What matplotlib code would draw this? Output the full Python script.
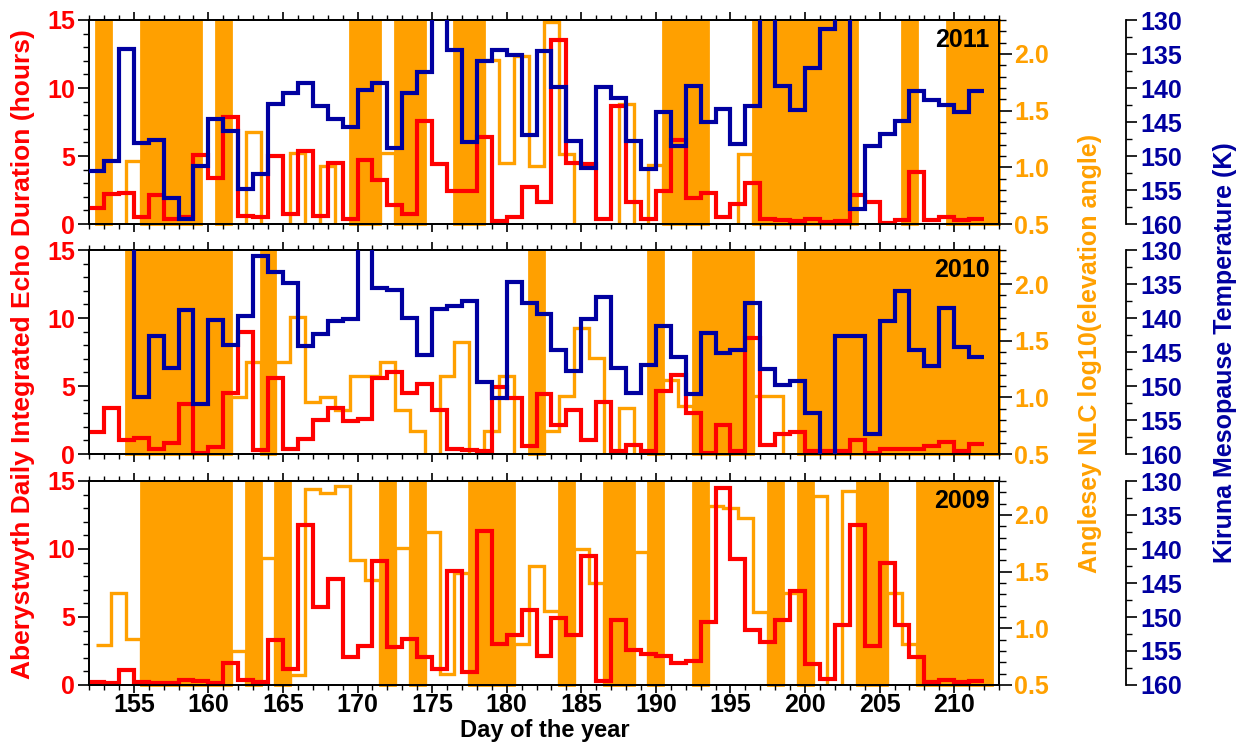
import numpy as np
import matplotlib
matplotlib.use("Agg")
import matplotlib.pyplot as plt
from matplotlib.ticker import MultipleLocator

plt.rcParams["font.family"] = ["Liberation Sans", "DejaVu Sans"]
plt.rcParams["font.weight"] = "bold"
plt.rcParams["axes.linewidth"] = 1.3

RED = "#ff0000"
ORANGE = "#ffa000"
NAVY = "#0000a0"
nan = np.nan

# echo duration (hours) and temperature (K): one value per day, 152..211
# NLC log10(elevation angle): one value per day centred on the day, 152..212
# (0 = no NLC seen, drawn at the floor); cloudy days are shaded
years = ["2011", "2010", "2009"]

echo_2011 = [1.2, 2.2, 2.3, 0.5, 2.1, 0.4, 0.5, 5.1, 3.4, 7.9, 0.6, 0.55, 5.0, 0.7, 5.4, 0.6,
             4.5, 0.4, 4.7, 3.2, 1.4, 0.7, 7.6, 4.4, 2.4, 2.4, 6.4, 0.2, 0.5, 2.7, 1.6,
             13.5, 4.5, 4.4, 0.35, 8.7, 1.6, 0.35, 2.4, 6.2, 1.9, 2.3, 0.55, 1.5, 3.0, 0.35,
             0.3, 0.25, 0.35, 0.15, 0.2, 2.1, 1.6, 0.1, 0.3, 3.8, 0.3, 0.55, 0.3, 0.4]
temp_2011 = [152.2, 150.7, 134.3, 148.1, 147.6, 156.2, 159.3, 151.4, 144.6, 146.3, 154.9,
             152.6, 142.3, 140.8, 139.2, 142.7, 144.6, 145.7, 140.3, 139.2, 148.8, 140.8,
             137.7, 127.0, 134.4, 148.0, 136.0, 134.4, 135.2, 146.9, 134.5,
             139.9, 147.8, 151.7, 139.9, 141.4, 147.8, 151.9, 143.6, 148.5, 139.7, 145.0,
             143.1, 148.2, 142.7, 127.0, 139.7, 143.2, 137.1, 131.3, 127.0, 157.8, 148.6,
             146.7, 144.8, 140.4, 141.8, 142.5, 143.5, 140.5]
nlc_2011 = [0, 0, 0, 1.06, 0, 0, 0, 0, 0, 0, 0, 1.31, 0, 0, 1.13, 0, 1.01, 0, 0, 0,
            1.13, 0, 0, 0, 0, 0, 0, 1.95, 1.04, 1.98, 1.01,
            2.28, 1.12, 0, 0, 0, 1.56, 0, 1.02, 0, 0, 0, 0, 0, 1.12, 0, 0, 0, 0, 0,
            0, 0, 0, 0, 0, 0, 0, 0, 0, 0]
cloudy_2011 = [153, 156, 157, 158, 159, 161, 170, 171, 173, 174, 177, 178, 191, 192, 193,
               197, 198, 199, 200, 201, 202, 203, 207, 210, 211, 212, 213]

echo_2010 = [1.65, 3.35, 1.0, 1.2, 0.4, 0.8, 3.65, 0.05, 0.5, 4.5, 9.0, 0.3, 5.6, 0.35, 1.1,
             2.5, 3.4, 2.4, 2.6, 5.6, 6.05, 4.45, 5.15, 3.2, 0.4, 0.3, 0.2, 4.9, 4.1, 0.6, 4.4,
             2.1, 3.2, 1.0, 3.8, 0.25, 0.65, 0.25, 4.6, 5.8, 3.0, 0.1, 2.1, 0.25, 8.5, 0.65,
             1.5, 1.65, 0.25, 0.25, 0.25, 1.0, 0.1, 0.35, 0.35, 0.35, 0.6, 0.85, 0.25, 0.75]
temp_2010 = [nan, nan, 127.0, 151.6, 142.6, 147.4, 138.8, 152.6, 140.3, 143.9, 139.7, 130.9,
             133.3, 134.8, 144.1, 142.3, 140.4, 140.2, 127.0, 135.6, 135.9, 140.0, 145.4,
             138.7, 138.2, 137.5, 149.4, 151.7, 134.7, 137.8, 139.4,
             144.7, 147.8, 140.1, 136.9, 147.4, 151.0, 146.9, 141.2, 145.8, 151.2, 142.2,
             145.2, 144.7, 137.8, 147.5, 149.8, 149.2, 154.0, 163.0, 142.6, 142.7, 157.1,
             140.5, 136.0, 144.7, 147.1, 138.6, 144.2, 145.7]
nlc_2010 = [0, 0, 0, 0, 0, 0, 0, 0, 0, 0, 1.0, 1.31, 0, 1.31, 1.71, 0.96, 1.0, 0.89, 1.19,
            1.19, 1.31, 0.89, 0.7, 0, 1.19, 1.49, 0, 0.7, 1.19, 0, 0,
            0.7, 1.01, 1.61, 1.35, 0, 0.91, 0, 0, 1.15, 0.92, 0, 0, 0, 0, 1.01, 1.01, 0,
            0, 0, 0, 0, 0, 0, 0, 0, 0, 0, 0, 0, 0]
cloudy_2010 = [155, 156, 157, 158, 159, 160, 161, 164, 182, 190, 193, 194, 195, 196,
               200, 201, 202, 203, 204, 205, 206, 207, 208, 209, 210, 211, 212, 213]

echo_2009 = [0.2, 0.12, 1.1, 0.2, 0.12, 0.12, 0.4, 0.3, 0.17, 1.6, 0.37, 0.24, 3.3, 1.15,
             11.8, 5.7, 7.8, 2.05, 2.85, 9.1, 2.8, 3.35, 2.05, 1.15, 8.4, 0.93, 11.3, 3.05,
             3.7, 5.5, 2.15,
             4.9, 3.7, 9.5, 0.3, 4.75, 2.55, 2.3, 2.1, 1.6, 1.8, 4.6, 14.5, 9.3, 4.05, 3.15,
             4.75, 6.9, 1.55, 0.45, 4.4, 11.8, 2.9, 9.0, 4.4, 2.05, 0.25, 0.35, 0.25, 0.3]
temp_2009 = [nan] * 60
nlc_2009 = [nan, 0.85, 1.31, 0.91, 0, 0, 0, 0, 0, 0, 0.8, 0, 1.62, 0, 0.59, 2.23, 2.19,
            2.26, 1.6, 1.43, 0, 1.71, 0, 1.85, 0.6, 1.49, 0, 0, 0, 0.86, 1.55,
            1.15, 0, 1.7, 1.4, 0, 0, 1.67, 0, 0, 0, 0, 2.08, 2.06, 1.97, 1.14, 0, 1.31, 0,
            2.17, 0, 2.21, 0, 0, 1.31, 0.86, 0, 0, 0, 0, 0]
cloudy_2009 = [156, 157, 158, 159, 160, 161, 163, 165, 172, 174, 178, 179, 180, 184, 187,
               188, 190, 193, 198, 200, 204, 205, 208, 209, 210, 211, 212]

X0, X1 = 152, 213


def steps(ax, start, vals, **kw):
    v = np.asarray(vals, dtype=float)
    x = start + np.arange(len(v) + 1)
    ax.plot(x, np.append(v, v[-1]), drawstyle="steps-post",
            solid_joinstyle="miter", solid_capstyle="butt", **kw)


def runs(days):
    out = []
    for d in sorted(days):
        if out and d == out[-1][1] + 1:
            out[-1][1] = d
        else:
            out.append([d, d])
    return out


panels = [
    (years[0], echo_2011, temp_2011, nlc_2011, cloudy_2011),
    (years[1], echo_2010, temp_2010, nlc_2010, cloudy_2010),
    (years[2], echo_2009, temp_2009, nlc_2009, cloudy_2009),
]

fig = plt.figure(figsize=(12.41, 7.42), dpi=100)
left, width, height = 89 / 1241, 910 / 1241, 204 / 742
bottoms = [1 - 224 / 742, 1 - 454 / 742, 1 - 685 / 742]

for i, (year, echo, temp, nlc, cloudy) in enumerate(panels):
    ax = fig.add_axes([left, bottoms[i], width, height])
    ax_nlc = ax.twinx()
    ax_t = ax.twinx()
    ax_nlc.set_zorder(1)
    ax.set_zorder(2)
    ax_t.set_zorder(3)
    ax.patch.set_visible(False)

    for a, b in runs(cloudy):
        ax_nlc.axvspan(max(a - 0.5, X0), min(b + 0.5, X1), facecolor=ORANGE,
                       edgecolor=ORANGE, lw=2.0, clip_on=False, zorder=0)
    steps(ax_nlc, 151.5, nlc, color=ORANGE, lw=2.4, zorder=2)
    steps(ax, 152, echo, color=RED, lw=3.0)
    steps(ax_t, 152, temp, color=NAVY, lw=3.0)

    ax.set_xlim(X0, X1)
    ax.set_ylim(0, 15)
    ax_nlc.set_ylim(0.5, 2.3)
    ax_t.set_ylim(160, 130)

    ax.xaxis.set_major_locator(MultipleLocator(5))
    ax.xaxis.set_minor_locator(MultipleLocator(1))
    ax.yaxis.set_major_locator(MultipleLocator(5))
    ax.yaxis.set_minor_locator(MultipleLocator(1))
    ax_nlc.yaxis.set_major_locator(MultipleLocator(0.5))
    ax_nlc.yaxis.set_minor_locator(MultipleLocator(0.1))
    ax_nlc.yaxis.set_major_formatter(plt.FormatStrFormatter("%.1f"))
    ax_t.yaxis.set_major_locator(MultipleLocator(5))
    ax_t.yaxis.set_minor_locator(MultipleLocator(2.5))

    ax.tick_params(axis="x", which="both", top=True, bottom=True, direction="out",
                   labelbottom=(i == 2), labelsize=18, pad=0)
    ax.tick_params(axis="x", which="major", length=6, width=1.2)
    ax.tick_params(axis="x", which="minor", length=3.5, width=1.0)
    ax.tick_params(axis="y", which="major", length=8, width=1.2, labelcolor=RED,
                   labelsize=18, pad=2)
    ax.tick_params(axis="y", which="minor", length=4.5, width=1.0)
    ax_nlc.tick_params(axis="y", which="major", length=9, width=1.2,
                       labelcolor=ORANGE, labelsize=18, pad=2)
    ax_nlc.tick_params(axis="y", which="minor", length=5, width=1.0)

    ax_t.spines["right"].set_position(("axes", 1 + 127 / 910))
    for side in ("top", "bottom", "left"):
        ax_t.spines[side].set_visible(False)
    ax_t.tick_params(axis="y", which="major", length=8, width=1.2,
                     labelcolor=NAVY, labelsize=18, pad=2)
    ax_t.tick_params(axis="y", which="minor", length=4, width=1.0)

    ax_t.text(0.99, 0.9, year, transform=ax_t.transAxes, ha="right", va="center",
              fontsize=18, fontweight="bold", color="black", zorder=10)

fig.text(23 / 1241, 1 - 354 / 742, "Aberystwyth Daily Integrated Echo Duration (hours)",
         rotation=90, ha="center", va="center", color=RED, fontsize=19, fontweight="bold")
fig.text(1090 / 1241, 1 - 353 / 742, "Anglesey NLC log10(elevation angle)",
         rotation=90, ha="center", va="center", color=ORANGE, fontsize=18, fontweight="bold")
fig.text(1225 / 1241, 1 - 353 / 742, "Kiruna Mesopause Temperature (K)",
         rotation=90, ha="center", va="center", color=NAVY, fontsize=18, fontweight="bold")
fig.text(545 / 1241, 1 - 737 / 742, "Day of the year", ha="center", va="baseline",
         fontsize=17, fontweight="bold")

fig.savefig("out.png", dpi=100)
